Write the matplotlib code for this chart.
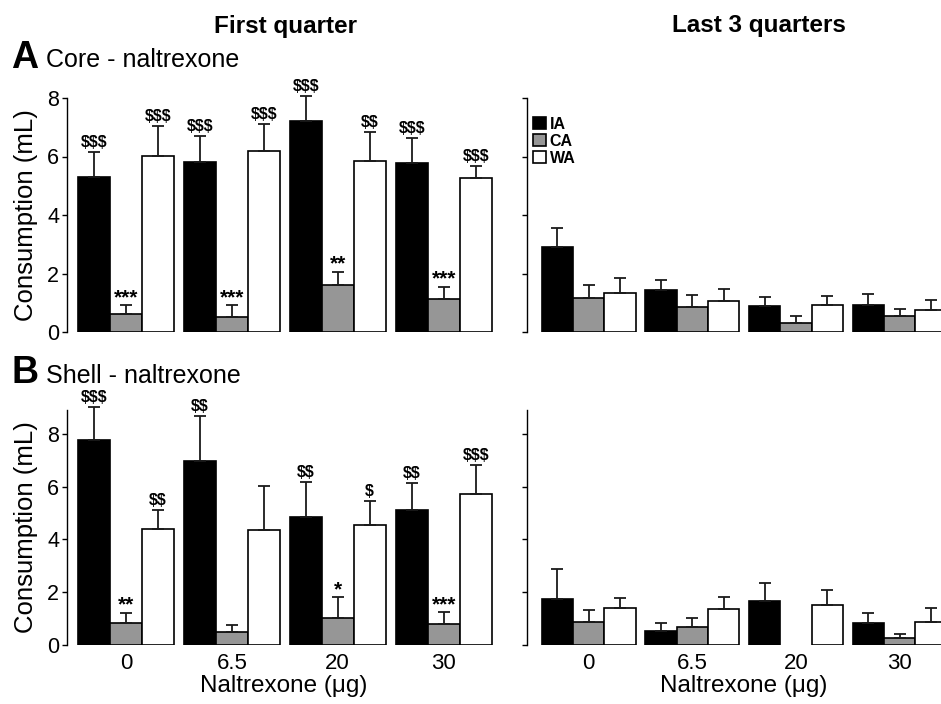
import matplotlib
matplotlib.use('Agg')
import matplotlib.pyplot as plt
import numpy as np
from matplotlib.patches import Patch

plt.rcParams['font.family'] = ['Liberation Sans', 'DejaVu Sans']
plt.rcParams['text.parse_math'] = False

# ---------------- data ----------------
doses = ['0', '6.5', '20', '30']
groups = ['IA', 'CA', 'WA']
colors = ['#000000', '#969696', '#ffffff']

# Core - first quarter
core_first_ia = [5.29, 5.82, 7.20, 5.77]
core_first_ca = [0.62, 0.52, 1.61, 1.12]
core_first_wa = [6.03, 6.19, 5.86, 5.28]
core_first_ia_sem = [0.85, 0.89, 0.88, 0.85]
core_first_ca_sem = [0.29, 0.39, 0.45, 0.42]
core_first_wa_sem = [1.00, 0.93, 0.99, 0.41]

# Core - last 3 quarters
core_last_ia = [2.89, 1.42, 0.90, 0.92]
core_last_ca = [1.16, 0.86, 0.30, 0.53]
core_last_wa = [1.34, 1.05, 0.91, 0.76]
core_last_ia_sem = [0.66, 0.37, 0.31, 0.39]
core_last_ca_sem = [0.46, 0.40, 0.24, 0.27]
core_last_wa_sem = [0.49, 0.43, 0.33, 0.33]

# Shell - first quarter
shell_first_ia = [7.76, 6.96, 4.84, 5.11]
shell_first_ca = [0.85, 0.51, 1.04, 0.81]
shell_first_wa = [4.41, 4.35, 4.54, 5.71]
shell_first_ia_sem = [1.25, 1.70, 1.34, 1.04]
shell_first_ca_sem = [0.38, 0.26, 0.76, 0.44]
shell_first_wa_sem = [0.70, 1.68, 0.90, 1.11]

# Shell - last 3 quarters
shell_last_ia = [1.76, 0.52, 1.66, 0.83]
shell_last_ca = [0.88, 0.70, 0.0, 0.25]
shell_last_wa = [1.39, 1.38, 1.50, 0.86]
shell_last_ia_sem = [1.11, 0.30, 0.70, 0.40]
shell_last_ca_sem = [0.45, 0.32, np.nan, 0.15]
shell_last_wa_sem = [0.38, 0.44, 0.57, 0.56]

# significance labels (first quarter)
core_sig_ia = ['$$$', '$$$', '$$$', '$$$']
core_sig_ca = ['***', '***', '**', '***']
core_sig_wa = ['$$$', '$$$', '$$', '$$$']
shell_sig_ia = ['$$$', '$$', '$$', '$$']
shell_sig_ca = ['**', '', '*', '***']
shell_sig_wa = ['$$', '', '$', '$$$']

# ---------------- layout ----------------
W, H = 941, 704
fig = plt.figure(figsize=(W / 100, H / 100), dpi=100)


def rect(x0, yt, x1, yb):
    return [x0 / W, 1 - yb / H, (x1 - x0) / W, (yb - yt) / H]


ax_tl = fig.add_axes(rect(67, 98, 500, 332))
ax_tr = fig.add_axes(rect(527, 98, 960, 332))
ax_bl = fig.add_axes(rect(67, 410, 500, 645))
ax_br = fig.add_axes(rect(527, 410, 960, 645))

step = 3.31
centers = np.arange(len(doses)) * step


def draw(ax, means, sems, sigs, ylim, xlim, bounds, show_labels, xlabels):
    for i, (m, s, c) in enumerate(zip(means, sems, colors)):
        x = centers + (i - 1) * 1.0
        m = np.array(m, dtype=float)
        s = np.array(s, dtype=float)
        edges = ['black' if v > 0 else 'none' for v in m]
        ax.bar(x, m, width=1.0, color=c, edgecolor=edges, linewidth=1.2, zorder=2)
        ok = ~np.isnan(s)
        ax.errorbar(x[ok], m[ok], yerr=[np.zeros(ok.sum()), s[ok]], fmt='none',
                    ecolor='#1a1a1a', elinewidth=1.3, capsize=4.3, capthick=1.3,
                    clip_on=False, zorder=3)
        if sigs is not None:
            for xi, mi, si, lab in zip(x, m, s, sigs[i]):
                if not lab:
                    continue
                if lab.startswith('*'):
                    ax.annotate(lab, (xi, mi + si), xytext=(0, 1.5), textcoords='offset points',
                                ha='center', va='baseline', fontsize=15, fontweight='bold',
                                annotation_clip=False)
                else:
                    ax.annotate(lab, (xi, mi + si), xytext=(0, 3.6), textcoords='offset points',
                                ha='center', va='baseline', fontsize=11.5, fontweight='bold',
                                annotation_clip=False)
    ax.set_ylim(*ylim)
    ax.set_xlim(*xlim)
    for sp in ['top', 'right', 'bottom']:
        ax.spines[sp].set_visible(False)
    ax.spines['left'].set_linewidth(1.0)
    ax.spines['left'].set_bounds(*bounds)
    ax.set_yticks([0, 2, 4, 6, 8])
    ax.tick_params(axis='y', direction='out', length=3.6, width=1.0, labelsize=15.5, pad=2)
    if not show_labels:
        ax.tick_params(axis='y', labelleft=False)
    if xlabels:
        ax.set_xticks(centers)
        ax.set_xticklabels(doses)
        ax.tick_params(axis='x', length=0, labelsize=16, pad=6)
        ax.set_xlabel('Naltrexone (\u03bcg)', fontsize=17.5)
        ax.xaxis.set_label_coords(0.5, -0.128)
    else:
        ax.set_xticks([])
    if show_labels:
        ax.set_ylabel('Consumption (mL)', fontsize=18.5)
        ax.yaxis.set_label_coords(-0.068, 0.5)


draw(ax_tl, [core_first_ia, core_first_ca, core_first_wa],
     [core_first_ia_sem, core_first_ca_sem, core_first_wa_sem],
     [core_sig_ia, core_sig_ca, core_sig_wa], (0, 8), (-1.84, 11.69), (0, 8), True, False)
draw(ax_tr, [core_last_ia, core_last_ca, core_last_wa],
     [core_last_ia_sem, core_last_ca_sem, core_last_wa_sem],
     None, (0, 8), (-1.97, 11.86), (0, 8), False, False)
draw(ax_bl, [shell_first_ia, shell_first_ca, shell_first_wa],
     [shell_first_ia_sem, shell_first_ca_sem, shell_first_wa_sem],
     [shell_sig_ia, shell_sig_ca, shell_sig_wa], (0, 8.9), (-1.84, 11.69), (0, 8.9), True, True)
draw(ax_br, [shell_last_ia, shell_last_ca, shell_last_wa],
     [shell_last_ia_sem, shell_last_ca_sem, shell_last_wa_sem],
     None, (0, 8.9), (-1.97, 11.86), (0, 8.9), False, True)

# legend
handles = [Patch(facecolor=c, edgecolor='black', linewidth=1.2) for c in colors]
ax_tr.legend(handles, groups, loc='upper left', bbox_to_anchor=(0.014, 0.92),
             frameon=False, prop={'weight': 'bold', 'size': 11.5},
             handlelength=0.78, handleheight=0.78, handletextpad=0.25,
             labelspacing=0.12, borderpad=0, borderaxespad=0)

# titles and panel labels
fig.text(286 / W, 1 - 32.5 / H, 'First quarter', ha='center', va='baseline',
         fontsize=17.5, fontweight='bold')
fig.text(759 / W, 1 - 32 / H, 'Last 3 quarters', ha='center', va='baseline',
         fontsize=17.5, fontweight='bold')
fig.text(11 / W, 1 - 68 / H, 'A', ha='left', va='baseline', fontsize=27, fontweight='bold')
fig.text(46 / W, 1 - 67 / H, 'Core - naltrexone', ha='left', va='baseline', fontsize=18)
fig.text(12 / W, 1 - 383 / H, 'B', ha='left', va='baseline', fontsize=27, fontweight='bold')
fig.text(46 / W, 1 - 383 / H, 'Shell - naltrexone', ha='left', va='baseline', fontsize=18)

fig.savefig('out.png', dpi=100)
